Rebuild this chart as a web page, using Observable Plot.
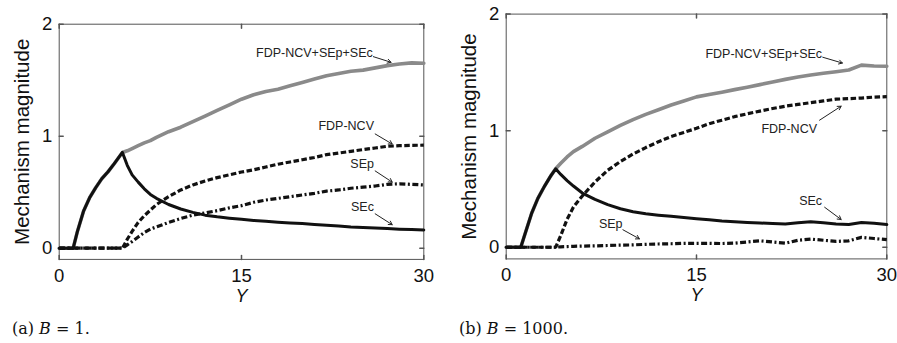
<!DOCTYPE html>
<html><head><meta charset="utf-8">
<script src="https://cdn.jsdelivr.net/npm/d3@7"></script>
<script src="https://cdn.jsdelivr.net/npm/@observablehq/plot@0.6"></script>
<style>
body{margin:0;background:#fff;}
#wrap{position:relative;width:897px;height:343px;overflow:hidden;background:#fff;}
.panel{position:absolute;top:0;}
.cap{position:absolute;font-family:"DejaVu Serif",serif;font-size:16px;line-height:18px;color:#111;white-space:nowrap;}
</style></head><body>
<div id="wrap">
  <div class="panel" id="pa" style="left:0px"></div>
  <div class="panel" id="pb" style="left:447px"></div>
  <div class="cap" style="left:12px;top:320px">(a) <i>B</i> = 1.</div>
  <div class="cap" style="left:459px;top:320px">(b) <i>B</i> = 1000.</div>
</div>
<script>
// ---- tick labels / axis text ----
const xTicks = [0, 15, 30];
const yTicks = [0, 1, 2];
const xLabel = "Y";
const yLabel = "Mechanism magnitude";
const seriesNames = ["FDP-NCV+SEp+SEc", "FDP-NCV", "SEp", "SEc"];

// ---- panel (a) B = 1 ----
const aX     = [0,1.15,1.5,2,2.5,3,3.5,4,4.5,5.2,5.6,6,6.5,7,7.5,8,9,10,11,12,13,14,15,16,17,18,19,20,21,22,23,24,25,26,27,28,29,30];
const aTotal = [0,0,0.15,0.33,0.45,0.54,0.62,0.68,0.75,0.855,0.87,0.89,0.915,0.94,0.96,0.99,1.04,1.08,1.13,1.18,1.23,1.28,1.33,1.37,1.40,1.42,1.45,1.48,1.51,1.54,1.56,1.58,1.59,1.61,1.63,1.645,1.655,1.652];
const aFDP   = [0,0,0,0,0,0,0,0,0,0,0.08,0.15,0.23,0.29,0.34,0.39,0.46,0.52,0.565,0.60,0.63,0.655,0.68,0.70,0.725,0.75,0.77,0.79,0.81,0.835,0.85,0.865,0.88,0.895,0.91,0.915,0.918,0.92];
const aSEp   = [0,0,0,0,0,0,0,0,0,0,0.03,0.06,0.10,0.14,0.17,0.19,0.23,0.265,0.295,0.315,0.335,0.36,0.38,0.41,0.43,0.445,0.46,0.475,0.49,0.51,0.52,0.535,0.545,0.555,0.57,0.575,0.57,0.565];
const aSEc   = [0,0,0.15,0.33,0.45,0.54,0.62,0.68,0.75,0.855,0.74,0.655,0.59,0.53,0.48,0.445,0.39,0.35,0.32,0.295,0.28,0.268,0.258,0.248,0.24,0.232,0.226,0.22,0.212,0.205,0.198,0.19,0.185,0.18,0.175,0.17,0.167,0.163];
// annotations (a): label order = seriesNames
const aLabX = [25.8, 25.9, 25.9, 25.9];
const aLabY = [1.74, 1.095, 0.754, 0.366];
const aArX1 = [25.85, 26.0, 26.0, 26.0];
const aArY1 = [1.71, 1.02, 0.69, 0.307];
const aArX2 = [27.3, 27.4, 27.4, 27.4];
const aArY2 = [1.66, 0.93, 0.59, 0.21];

// ---- panel (b) B = 1000 ----
const bX     = [0,1.15,1.5,2,2.5,3,3.5,3.9,4.3,4.8,5.3,6,7,8,9,10,11,12,13,14,15,16,17,18,19,20,21,22,23,24,25,26,27,28,29,30];
const bTotal = [0,0,0.12,0.29,0.42,0.52,0.61,0.673,0.72,0.775,0.82,0.865,0.935,0.99,1.045,1.095,1.14,1.18,1.22,1.255,1.29,1.31,1.33,1.352,1.373,1.395,1.418,1.44,1.46,1.478,1.492,1.505,1.52,1.562,1.555,1.553];
const bFDP   = [0,0,0,0,0,0,0,0,0.1,0.24,0.345,0.44,0.56,0.66,0.735,0.80,0.855,0.905,0.95,0.985,1.02,1.06,1.09,1.12,1.145,1.168,1.19,1.21,1.225,1.24,1.255,1.27,1.275,1.28,1.288,1.292];
const bSEp   = [0,0,0,0,0,0,0,0,0.004,0.006,0.008,0.01,0.012,0.015,0.018,0.02,0.025,0.028,0.03,0.034,0.034,0.034,0.032,0.035,0.045,0.055,0.045,0.035,0.06,0.07,0.06,0.05,0.055,0.085,0.075,0.065];
const bSEc   = [0,0,0.12,0.29,0.42,0.52,0.61,0.673,0.625,0.572,0.525,0.465,0.41,0.365,0.33,0.305,0.287,0.275,0.265,0.255,0.245,0.235,0.225,0.218,0.213,0.208,0.203,0.2,0.21,0.218,0.21,0.2,0.195,0.212,0.205,0.195];
// annotations (b): label order = seriesNames
const bLabX = [24.9, 24.5, 9.17, 24.9];
const bLabY = [1.66, 1.016, 0.2, 0.40];
const bArX1 = [24.95, 24.7, 9.2, 25.1];
const bArY1 = [1.63, 1.09, 0.15, 0.343];
const bArX2 = [26.5, 26.4, 10.5, 26.4];
const bArY2 = [1.58, 1.21, 0.072, 0.238];

const frameColor = "#555";
const sansFont = "'Liberation Sans', Arial, Helvetica, sans-serif";
const tickShape = {draw(ctx, l) { ctx.moveTo(0, 0); ctx.lineTo(0, -l); }};

function rows(xs, ys) { return xs.map((x, i) => ({x, y: ys[i]})); }

function makePanel(o) {
  const ann = seriesNames.map((name, i) => ({
    name, lx: o.labX[i], ly: o.labY[i],
    x1: o.arX1[i], y1: o.arY1[i], x2: o.arX2[i], y2: o.arY2[i]
  }));
  return Plot.plot({
    width: o.width, height: o.height,
    marginLeft: o.ml, marginRight: o.mr, marginTop: o.mt, marginBottom: o.mb,
    x: {domain: [0, 30]},
    y: {domain: [-0.1, 2]},
    style: {fontFamily: sansFont, fontSize: "18px", color: "#111", background: "white", overflow: "visible"},
    marks: [
      Plot.frame({stroke: frameColor, strokeWidth: 1}),
      Plot.vector(xTicks, {x: d => d, frameAnchor: "bottom", length: 4, rotate: 0, anchor: "start", shape: tickShape, stroke: frameColor}),
      Plot.vector(xTicks, {x: d => d, frameAnchor: "top", length: 4, rotate: 180, anchor: "start", shape: tickShape, stroke: frameColor}),
      Plot.vector(yTicks, {y: d => d, frameAnchor: "left", length: 4, rotate: 90, anchor: "start", shape: tickShape, stroke: frameColor}),
      Plot.vector(yTicks, {y: d => d, frameAnchor: "right", length: 4, rotate: -90, anchor: "start", shape: tickShape, stroke: frameColor}),
      Plot.axisX(xTicks, {anchor: "bottom", tickSize: 0, tickPadding: 9, label: null, tickFormat: d => String(d), fontSize: 18.5, fontFamily: sansFont, fill: "#111"}),
      Plot.axisY(yTicks, {anchor: "left", tickSize: 0, tickPadding: 7, label: null, tickFormat: d => String(d), fontSize: 18.5, fontFamily: sansFont, fill: "#111"}),
      Plot.text([xLabel], {text: d => d, frameAnchor: "bottom", dy: 42.5, fontStyle: "italic", fontSize: 18, fontFamily: sansFont, fill: "#111"}),
      Plot.text([yLabel], {text: d => d, frameAnchor: "left", textAnchor: "middle", rotate: -90, dx: -37, fontSize: 20.5, fontFamily: sansFont, fill: "#111"}),
      Plot.line(rows(o.X, o.total), {x: "x", y: "y", stroke: "#8a8a8a", strokeWidth: 3.6, curve: "linear"}),
      Plot.line(rows(o.X, o.sep), {x: "x", y: "y", stroke: "#111", strokeWidth: 3.2, strokeLinecap: "butt", strokeLinejoin: "miter", strokeDasharray: "6,2.5,2,2.5"}),
      Plot.line(rows(o.X, o.fdp), {x: "x", y: "y", stroke: "#111", strokeWidth: 3.2, strokeLinecap: "butt", strokeLinejoin: "miter", strokeDasharray: "5.5,2.5"}),
      Plot.line(rows(o.X, o.sec), {x: "x", y: "y", stroke: "#111", strokeWidth: 3}),
      Plot.arrow(ann, {x1: "x1", y1: "y1", x2: "x2", y2: "y2", stroke: "#222", strokeWidth: 1, headLength: 6}),
      Plot.text(ann, {x: "lx", y: "ly", text: "name", textAnchor: "end", fontSize: 12.5, fontFamily: sansFont, fill: "#222"})
    ]
  });
}

document.getElementById("pa").append(makePanel({
  width: 447, height: 310, ml: 58.7, mr: 23.7, mt: 23.7, mb: 51.1,
  X: aX, total: aTotal, fdp: aFDP, sep: aSEp, sec: aSEc,
  labX: aLabX, labY: aLabY, arX1: aArX1, arY1: aArY1, arX2: aArX2, arY2: aArY2
}));
document.getElementById("pb").append(makePanel({
  width: 450, height: 310, ml: 58.7, mr: 10.7, mt: 13.6, mb: 51.6,
  X: bX, total: bTotal, fdp: bFDP, sep: bSEp, sec: bSEc,
  labX: bLabX, labY: bLabY, arX1: bArX1, arY1: bArY1, arX2: bArX2, arY2: bArY2
}));
</script>
</body></html>
